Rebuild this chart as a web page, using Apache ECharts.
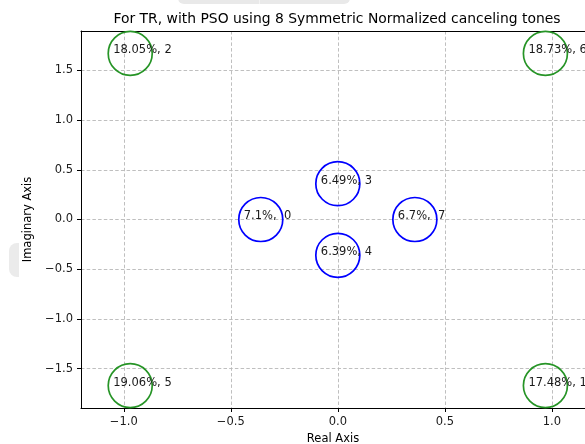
<!DOCTYPE html>
<html>
<head>
<meta charset="utf-8">
<script src="https://cdn.jsdelivr.net/npm/echarts@6/dist/echarts.min.js"></script>
<style>
html,body{margin:0;padding:0;background:#fff;}
#chart{width:585px;height:444px;}
</style>
</head>
<body>
<div id="chart"></div>
<script>
// Tone positions (real, imaginary), labels
const innerReal = [-0.36, 0.0, 0.0, 0.36];
const innerImag = [0.0, 0.36, -0.36, 0.0];
const innerLabels = ['7.1%,  0', '6.49%, 3', '6.39%, 4', '6.7%,  7'];

const outerReal = [0.97, -0.97, -0.97, 0.97];
const outerImag = [-1.67, 1.67, -1.67, 1.67];
const outerLabels = ['17.48%, 1', '18.05%, 2', '19.06%, 5', '18.73%, 6'];

const xTicks = [-1.0, -0.5, 0.0, 0.5, 1.0];
const yTicks = [-1.5, -1.0, -0.5, 0.0, 0.5, 1.0, 1.5];

const titleText = 'For TR, with PSO using 8 Symmetric Normalized canceling tones';
const font = 'DejaVu Sans';

function toData(xs, ys, labels) {
  return xs.map((x, i) => ({ value: [x, ys[i]], name: labels[i] }));
}

function fmtTick(v) {
  const s = v.toFixed(1);
  return v < 0 ? '\u2212' + s.slice(1) : s;
}

const labelCfg = {
  show: true,
  position: 'inside',
  align: 'left',
  verticalAlign: 'middle',
  offset: [-17, -3],
  color: '#1a1a1a',
  fontFamily: font,
  fontSize: 11.5,
  formatter: p => p.name
};

const gridLine = { show: true, lineStyle: { color: '#b8b8b8', width: 0.9, type: [3.5, 2.2] } };

const chart = echarts.init(document.getElementById('chart'), null, { renderer: 'canvas' });
chart.setOption({
  animation: false,
  backgroundColor: '#ffffff',
  graphic: [
    { type: 'rect', shape: { x: 178, y: -12, width: 172, height: 16, r: 6 }, style: { fill: '#e9e9e9' }, z: 100 },
    { type: 'rect', shape: { x: 259, y: -12, width: 1, height: 16 }, style: { fill: '#f4f4f4' }, z: 101 },
    { type: 'rect', shape: { x: 9, y: 243, width: 10, height: 34, r: [8, 0, 0, 8] }, style: { fill: '#ebebeb' }, z: 100 },
    { type: 'text', x: 337, y: 19, style: { text: titleText, textAlign: 'center', textVerticalAlign: 'middle', font: '13.9px "DejaVu Sans"', fill: '#000' }, z: 100 }
  ],
  grid: {
    left: 81, top: 31, right: 0, height: 377,
    show: false,
    containLabel: false,
    outerBoundsMode: 'none'
  },
  xAxis: [{
    type: 'value', min: -1.2, max: 1.155,
    name: 'Real Axis', nameLocation: 'middle', nameGap: 22,
    nameTextStyle: { fontFamily: font, fontSize: 11.5, color: '#000' },
    axisLine: { show: true, onZero: false, lineStyle: { color: '#000', width: 1 } },
    axisTick: { show: true, length: 4, inside: false, customValues: xTicks, lineStyle: { color: '#000' } },
    axisLabel: { customValues: xTicks, margin: 8, fontFamily: font, fontSize: 11.5, color: '#1a1a1a', formatter: fmtTick },
    splitLine: gridLine
  }, {
    type: 'value', min: -1.2, max: 1.155, position: 'top',
    axisLine: { show: true, onZero: false, lineStyle: { color: '#000', width: 1 } },
    axisTick: { show: false }, axisLabel: { show: false }, splitLine: { show: false }
  }],
  yAxis: {
    type: 'value', min: -1.895, max: 1.895,
    name: 'Imaginary Axis', nameLocation: 'middle', nameGap: 34,
    nameTextStyle: { fontFamily: font, fontSize: 11.5, color: '#000' },
    axisLine: { show: true, onZero: false, lineStyle: { color: '#000', width: 1 } },
    axisTick: { show: true, length: 4, inside: false, customValues: yTicks, lineStyle: { color: '#000' } },
    axisLabel: { customValues: yTicks, margin: 8, fontFamily: font, fontSize: 11.5, color: '#1a1a1a', formatter: fmtTick },
    splitLine: gridLine
  },
  series: [
    {
      type: 'scatter', clip: false,
      symbol: 'circle', symbolSize: 44,
      itemStyle: { color: 'rgba(0,0,0,0)', borderColor: '#0000ff', borderWidth: 1.7, opacity: 1 },
      label: labelCfg,
      data: toData(innerReal, innerImag, innerLabels)
    },
    {
      type: 'scatter', clip: false,
      symbol: 'circle', symbolSize: 44,
      itemStyle: { color: 'rgba(0,0,0,0)', borderColor: '#269426', borderWidth: 1.7, opacity: 1 },
      label: labelCfg,
      data: toData(outerReal, outerImag, outerLabels)
    }
  ]
});
</script>
</body>
</html>
